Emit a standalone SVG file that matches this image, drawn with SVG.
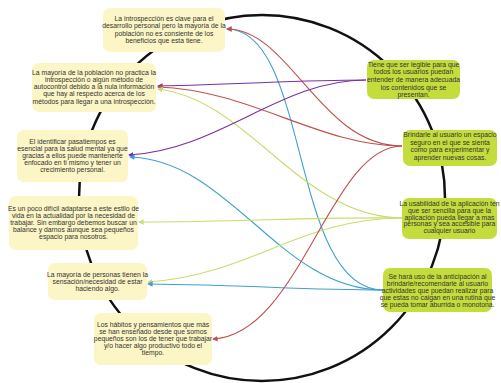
<svg xmlns="http://www.w3.org/2000/svg" width="501" height="383" viewBox="0 0 501 383">
<style>
.ring{fill:none;stroke:#111;stroke-width:2.5}
.c{fill:none;stroke-width:1.1}
.red{stroke:#c0504d}
.blue{stroke:#3fa0d0}
.pur{stroke:#7b2fa0}
.grn{stroke:#c9dc6e}
.y{fill:#fcf5c5}
.g{fill:#c5dd3c}
text{font-family:"Liberation Sans",Arial,sans-serif;font-size:6.8px;fill:#333;text-anchor:middle}
</style>
<defs>
<marker id="ar" viewBox="0 0 6 6" refX="5" refY="3" markerWidth="5" markerHeight="5" orient="auto"><path d="M0,0L6,3L0,6z" fill="#c0504d"/></marker>
<marker id="ab" viewBox="0 0 6 6" refX="5" refY="3" markerWidth="5" markerHeight="5" orient="auto"><path d="M0,0L6,3L0,6z" fill="#3fa0d0"/></marker>
<marker id="ap" viewBox="0 0 6 6" refX="5" refY="3" markerWidth="5" markerHeight="5" orient="auto"><path d="M0,0L6,3L0,6z" fill="#7b2fa0"/></marker>
<marker id="ag" viewBox="0 0 6 6" refX="5" refY="3" markerWidth="5" markerHeight="5" orient="auto"><path d="M0,0L6,3L0,6z" fill="#c9dc6e"/></marker>
</defs>
<circle class="ring" cx="262" cy="198" r="183"/>
<g id="connectors">
<path class="c blue" d="M383,290 C290,290 310,29 227,29" marker-end="url(#ab)"/>
<path class="c red" d="M402,146 C320,146 290,29 227,29" marker-end="url(#ar)"/>
<path class="c pur" d="M366,80 C300,80 250,84 158,86" marker-end="url(#ap)"/>
<path class="c red" d="M402,146 C320,146 250,90 158,87" marker-end="url(#ar)"/>
<path class="c grn" d="M403,218 C300,218 250,100 158,89" marker-end="url(#ag)"/>
<path class="c pur" d="M366,80 C280,80 220,150 129,155" marker-end="url(#ap)"/>
<path class="c blue" d="M383,290 C280,290 230,160 130,157" marker-end="url(#ab)"/>
<path class="c grn" d="M403,218 C300,217 250,222 139,222" marker-end="url(#ag)"/>
<path class="c grn" d="M403,218 C300,218 250,275 148,282" marker-end="url(#ag)"/>
<path class="c blue" d="M383,290 C300,290 250,285 148,284" marker-end="url(#ab)"/>
<path class="c red" d="M402,146 C330,146 300,335 213,339" marker-end="url(#ar)"/>
</g>
<g id="n1"><rect class="y" x="103" y="8" width="122" height="44" rx="7"/>
<text x="164" y="21"><tspan x="164">La  introspección es clave para el</tspan><tspan x="164" dy="7.3">desarrollo personal pero la mayoría de la</tspan><tspan x="164" dy="7.3">población no es consiente de los</tspan><tspan x="164" dy="7.3">beneficios que esta tiene.</tspan></text></g>
<g id="n2"><rect class="y" x="32" y="63" width="124" height="49" rx="7"/>
<text x="94" y="74.5"><tspan x="94">La mayoría de la población no practica la</tspan><tspan x="94" dy="7.3">introspección o algún método de</tspan><tspan x="94" dy="7.3">autocontrol debido a la nula información</tspan><tspan x="94" dy="7.3">que hay al respecto acerca de los</tspan><tspan x="94" dy="7.3">métodos para llegar a una introspección.</tspan></text></g>
<g id="n3"><rect class="y" x="17" y="130" width="111" height="52" rx="7"/>
<text x="72.5" y="143.5"><tspan x="72.5">El identificar pasatiempos es</tspan><tspan x="72.5" dy="7.1">esencial para la salud mental ya que</tspan><tspan x="72.5" dy="7.1">gracias a ellos puede mantenerte</tspan><tspan x="72.5" dy="7.1">enfocado en ti mismo y tener un</tspan><tspan x="72.5" dy="7.1">crecimiento personal.</tspan></text></g>
<g id="n4"><rect class="y" x="9" y="196" width="129" height="54" rx="7"/>
<text x="73.5" y="211"><tspan x="73.5">Es un poco difícil adaptarse a este estilo de</tspan><tspan x="73.5" dy="6.9">vida en la actualidad por la necesidad de</tspan><tspan x="73.5" dy="6.9">trabajar. Sin embargo debemos buscar un</tspan><tspan x="73.5" dy="6.9">balance y darnos aunque sea pequeños</tspan><tspan x="73.5" dy="6.9">espacio para nosotros.</tspan></text></g>
<g id="n5"><rect class="y" x="48" y="263" width="99" height="37" rx="7"/>
<text x="97.5" y="276.5"><tspan x="97.5">La mayoría de personas tienen la</tspan><tspan x="97.5" dy="7.2">sensación/necesidad de estar</tspan><tspan x="97.5" dy="7.2">haciendo algo.</tspan></text></g>
<g id="n6"><rect class="y" x="94" y="313" width="118" height="52" rx="7"/>
<text x="153" y="327"><tspan x="153">Los hábitos y pensamientos que más</tspan><tspan x="153" dy="7.1">se han enseñado desde que somos</tspan><tspan x="153" dy="7.1">pequeños son los de tener que trabajar</tspan><tspan x="153" dy="7.1">y/o hacer algo productivo todo el</tspan><tspan x="153" dy="7.1">tiempo.</tspan></text></g>
<g id="r1"><rect class="g" x="367" y="60" width="93" height="39" rx="7"/>
<text x="413.5" y="66.5"><tspan x="413.5">Tiene que ser legible para que</tspan><tspan x="413.5" dy="7.7">todos los usuarios puedan</tspan><tspan x="413.5" dy="7.7">entender de manera adecuada</tspan><tspan x="413.5" dy="7.7">los contenidos que se</tspan><tspan x="413.5" dy="7.7">presentan.</tspan></text></g>
<g id="r2"><rect class="g" x="403" y="130" width="94" height="36" rx="7"/>
<text x="450" y="137"><tspan x="450">Brindarle al usuario un espacio</tspan><tspan x="450" dy="7.5">seguro en el que se sienta</tspan><tspan x="450" dy="7.5">como para experimentar y</tspan><tspan x="450" dy="7.5">aprender nuevas cosas.</tspan></text></g>
<g id="r3"><rect class="g" x="402" y="198" width="95" height="41" rx="7"/>
<text x="449.5" y="206"><tspan x="449.5">La usabilidad de la aplicación ten</tspan><tspan x="449.5" dy="6.8">que ser sencilla para que la</tspan><tspan x="449.5" dy="6.8">aplicación pueda llegar a mas</tspan><tspan x="449.5" dy="6.8">personas y sea accesible para</tspan><tspan x="449.5" dy="6.8">cualquier usuario</tspan></text></g>
<g id="r4"><rect class="g" x="383" y="268" width="109" height="44" rx="7"/>
<text x="437.5" y="278.8"><tspan x="437.5">Se hará uso de la anticipación al</tspan><tspan x="437.5" dy="7">brindarle/recomendarle al usuario</tspan><tspan x="437.5" dy="7">actividades que puedan realizar para</tspan><tspan x="437.5" dy="7">que estas no caigan en una rutina que</tspan><tspan x="437.5" dy="7">se pueda tomar aburrida o monotona.</tspan></text></g>
</svg>
